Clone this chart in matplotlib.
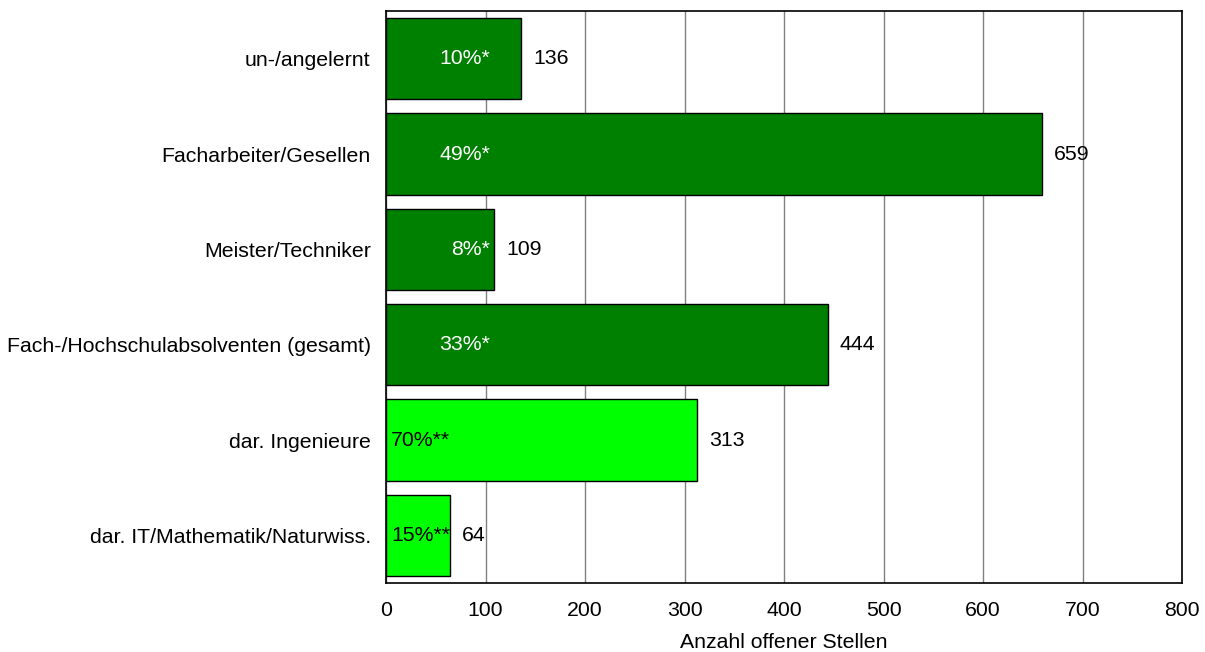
import matplotlib.pyplot as plt
import numpy as np

plt.rcParams['font.family'] = ['Liberation Sans', 'DejaVu Sans']

# Data
categories = ['un-/angelernt', 'Facharbeiter/Gesellen', 'Meister/Techniker',
              'Fach-/Hochschulabsolventen (gesamt)', 'dar. Ingenieure',
              'dar. IT/Mathematik/Naturwiss.']
values = [136, 659, 109, 444, 313, 64]
shares = ['10%*', '49%*', '8%*', '33%*', '70%**', '15%**']
is_sub = [False, False, False, False, True, True]

dark_green = '#008000'
light_green = '#00FF00'
fs = 15.3

fig = plt.figure(figsize=(12.05, 6.52), dpi=100)
ax = fig.add_axes([386 / 1205, 1 - 583 / 652, (1182 - 386) / 1205, (583 - 11) / 652])

y = np.arange(len(categories))
colors = [light_green if s else dark_green for s in is_sub]
ax.barh(y, values, height=0.85, color=colors, edgecolor='black', linewidth=1, zorder=3)

# Labels inside and outside bars
for i, (v, s, sub) in enumerate(zip(values, shares, is_sub)):
    if sub:
        ax.text(5, i, s, ha='left', va='center', color='black', fontsize=fs, zorder=4)
    else:
        ax.text(105, i, s, ha='right', va='center', color='white', fontsize=fs, zorder=4)
    ax.text(v + 12, i, str(v), ha='left', va='center', color='black', fontsize=fs, zorder=4)

ax.set_xlim(0, 800)
ax.set_ylim(len(categories) - 0.5, -0.5)
ax.set_xticks(range(0, 801, 100))
ax.set_yticks(y)
ax.set_yticklabels(categories, fontsize=fs)
ax.tick_params(axis='x', labelsize=fs, length=0, pad=13)
ax.tick_params(axis='y', length=0, pad=11)
ax.grid(axis='x', color='#808080', linewidth=1, zorder=0)
ax.set_axisbelow(True)
for sp in ax.spines.values():
    sp.set_linewidth(1.2)
ax.set_xlabel('Anzahl offener Stellen', fontsize=fs, labelpad=9)

plt.savefig('out.png', dpi=100)
